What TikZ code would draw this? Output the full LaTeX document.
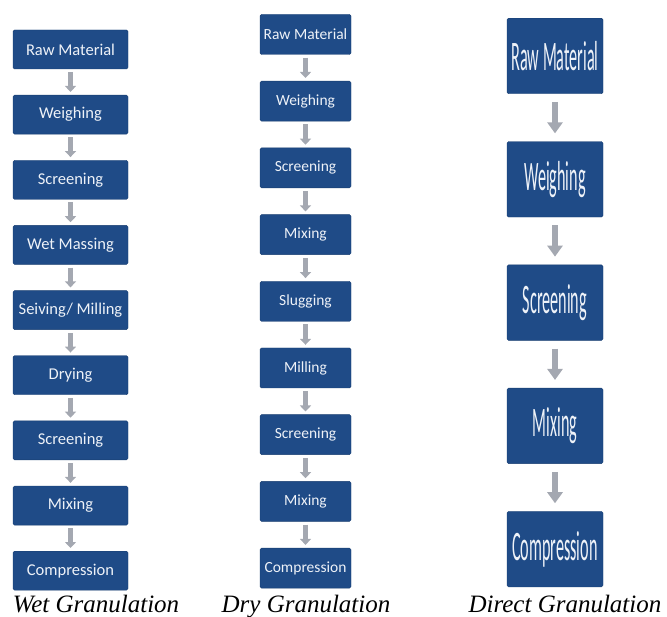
\documentclass[tikz,border=0pt]{standalone}
\usepackage{fontspec}
\setmainfont{Carlito}
\newfontfamily\capfont{Liberation Serif}
\usepackage{graphicx}
\usepackage{xcolor}
\definecolor{cBox}  {HTML}{1F4B87}
\definecolor{cEdge} {HTML}{173D70}
\definecolor{cArrow}{HTML}{A4A8B1}
\definecolor{cText} {HTML}{EEF2F8}
\usepackage{tikz}
\usetikzlibrary{arrows.meta, positioning}
\tikzset{
  stage/.style  = {rectangle, draw=cEdge, fill=cBox, rounded corners=1.5pt,
                   inner sep=0pt, text=cText},
  wbox/.style   = {stage, minimum width=115pt, minimum height=39pt,
                   font=\fontsize{16.5}{18}\selectfont},
  dbox/.style   = {stage, minimum width=91pt, minimum height=40pt,
                   font=\fontsize{15.5}{17}\selectfont},
  xbox/.style   = {stage, minimum width=96pt, minimum height=75.5pt,
                   font=\fontsize{42}{44}\selectfont},
  arr/.style    = {draw=cArrow, line width=5pt,
                   -{Triangle[width=11pt, length=6pt]},
                   shorten <=3pt, shorten >=3pt},
  bigarr/.style = {draw=cArrow, line width=6pt,
                   -{Triangle[width=15pt, length=11pt]},
                   shorten <=8pt, shorten >=8pt},
  method/.style = {anchor=base, inner sep=0pt,
                   font=\capfont\itshape\fontsize{25}{28}\selectfont},
}
\newcommand{\tall}[1]{\scalebox{0.385}[1]{#1}}

\begin{document}
\begin{tikzpicture}[x=1pt, y=1pt]
  \useasboundingbox (0,0) rectangle (667,-617);

  %% --- Wet granulation ---
  \node[wbox] (wraw) at (70.5,-49.5) {Raw Material};
  \node[wbox, below=25.75pt of wraw]  (wweigh) {Weighing};
  \node[wbox, below=25.75pt of wweigh] (wscr)  {Screening};
  \node[wbox, below=25.75pt of wscr]  (wmass)  {Wet Massing};
  \node[wbox, below=25.75pt of wmass] (wmill)  {Seiving/ Milling};
  \node[wbox, below=25.75pt of wmill] (wdry)   {Drying};
  \node[wbox, below=25.75pt of wdry]  (wscrb)  {Screening};
  \node[wbox, below=25.75pt of wscrb] (wmix)   {Mixing};
  \node[wbox, below=25.75pt of wmix]  (wcomp)  {Compression};

  %% --- Dry granulation ---
  \node[dbox] (draw) at (305.5,-34.5) {Raw Material};
  \node[dbox, below=26.3pt of draw]   (dweigh) {Weighing};
  \node[dbox, below=26.3pt of dweigh] (dscr)   {Screening};
  \node[dbox, below=26.3pt of dscr]   (dmix)   {Mixing};
  \node[dbox, below=26.3pt of dmix]   (dslug)  {Slugging};
  \node[dbox, below=26.3pt of dslug]  (dmill)  {Milling};
  \node[dbox, below=26.3pt of dmill]  (dscrb)  {Screening};
  \node[dbox, below=26.3pt of dscrb]  (dmixb)  {Mixing};
  \node[dbox, below=26.3pt of dmixb]  (dcomp)  {Compression};

  %% --- Direct granulation ---
  \node[xbox] (xraw) at (555,-56) {\tall{Raw Material}};
  \node[xbox, below=47.4pt of xraw]   (xweigh) {\tall{Weighing}};
  \node[xbox, below=47.4pt of xweigh] (xscr)   {\tall{Screening}};
  \node[xbox, below=47.4pt of xscr]   (xmix)   {\tall{Mixing}};
  \node[xbox, below=47.4pt of xmix]   (xcomp)  {\tall{Compression}};

  %% --- Captions ---
  \node[method] (wcap) at (96,-612)  {Wet Granulation};
  \node[method] (dcap) at (306,-612) {Dry Granulation};
  \node[method] (xcap) at (565,-612) {Direct Granulation};

  %% --- Arrows ---
  \draw[arr] (wraw)   -- (wweigh);
  \draw[arr] (wweigh) -- (wscr);
  \draw[arr] (wscr)   -- (wmass);
  \draw[arr] (wmass)  -- (wmill);
  \draw[arr] (wmill)  -- (wdry);
  \draw[arr] (wdry)   -- (wscrb);
  \draw[arr] (wscrb)  -- (wmix);
  \draw[arr] (wmix)   -- (wcomp);

  \draw[arr] (draw)   -- (dweigh);
  \draw[arr] (dweigh) -- (dscr);
  \draw[arr] (dscr)   -- (dmix);
  \draw[arr] (dmix)   -- (dslug);
  \draw[arr] (dslug)  -- (dmill);
  \draw[arr] (dmill)  -- (dscrb);
  \draw[arr] (dscrb)  -- (dmixb);
  \draw[arr] (dmixb)  -- (dcomp);

  \draw[bigarr] (xraw)   -- (xweigh);
  \draw[bigarr] (xweigh) -- (xscr);
  \draw[bigarr] (xscr)   -- (xmix);
  \draw[bigarr] (xmix)   -- (xcomp);

\end{tikzpicture}
\end{document}
